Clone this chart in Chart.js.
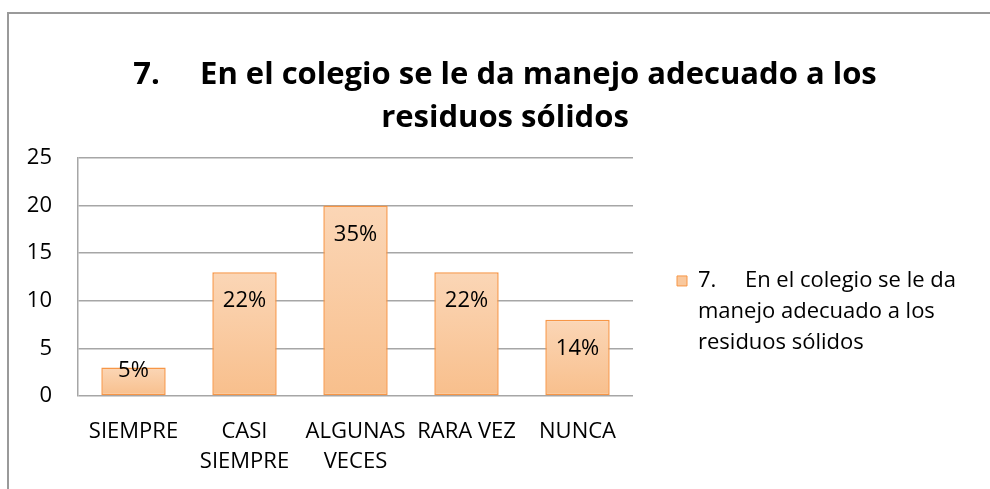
<!DOCTYPE html>
<html>
<head>
<meta charset="utf-8">
<script src="https://cdn.jsdelivr.net/npm/chart.js@4.4.1/dist/chart.umd.min.js"></script>
<style>
  html, body { margin: 0; padding: 0; background: #fff; overflow: hidden; }
  #grafico { display: block; }
</style>
</head>
<body>
<canvas id="grafico" width="990" height="489"></canvas>
<script>
const categorias = ['SIEMPRE', ['CASI', 'SIEMPRE'], ['ALGUNAS', 'VECES'], 'RARA VEZ', 'NUNCA'];
const respuestas = [3, 13, 20, 13, 8];
const porcentajes = ['5%', '22%', '35%', '22%', '14%'];
const marcasY = [0, 5, 10, 15, 20, 25];
const titulo = ['7.     En el colegio se le da manejo adecuado a los', 'residuos sólidos'];
const leyenda = ['7.     En el colegio se le da', 'manejo adecuado a los', 'residuos sólidos'];

const fuente = "'Open Sans', 'Noto Sans', sans-serif";
Chart.defaults.color = '#000';
Chart.defaults.font.family = fuente;

// marco gris del grafico (arriba e izquierda)
const marco = {
  id: 'marco',
  beforeDraw(chart) {
    const c = chart.ctx;
    c.save();
    c.strokeStyle = '#9a9a9a';
    c.lineWidth = 2;
    c.beginPath();
    c.moveTo(8, 489);
    c.lineTo(8, 13);
    c.lineTo(990, 13);
    c.stroke();
    c.restore();
  }
};

// porcentajes dentro de cada barra
const etiquetas = {
  id: 'etiquetas',
  afterDatasetsDraw(chart) {
    const c = chart.ctx;
    const barras = chart.getDatasetMeta(0).data;
    c.save();
    c.font = '22px ' + fuente;
    c.fillStyle = '#000';
    c.textAlign = 'center';
    c.textBaseline = 'middle';
    barras.forEach((b, i) => {
      const alto = b.base - b.y;
      const y = alto > 45 ? b.y + 29 : b.y + 3;
      c.fillText(porcentajes[i], b.x, y);
    });
    c.restore();
  }
};

// leyenda de la derecha: ancho fijo y un poco mas abajo
const ajusteLeyenda = {
  id: 'ajusteLeyenda',
  beforeLayout(chart) {
    const lg = chart.legend;
    if (lg && !lg._fijo) {
      const fit = lg.fit;
      lg.fit = function () { fit.call(this); this.width = 357; };
      lg._fijo = true;
    }
  },
  afterLayout(chart) {
    if (chart.legend) chart.legend.bottom += 11;
  }
};

function degradado(context) {
  const chart = context.chart;
  const area = chart.chartArea;
  if (!area) return '#f9c89d';
  const y = chart.scales.y;
  const v = respuestas[context.dataIndex];
  const top = y.getPixelForValue(v);
  const bottom = y.getPixelForValue(0);
  const g = chart.ctx.createLinearGradient(0, top, 0, bottom);
  g.addColorStop(0, '#fbd6b6');
  g.addColorStop(1, '#f8bf8c');
  return g;
}

const ctx = document.getElementById('grafico').getContext('2d');
new Chart(ctx, {
  type: 'bar',
  data: {
    labels: categorias,
    datasets: [{
      label: leyenda.join(' '),
      data: respuestas,
      backgroundColor: degradado,
      borderColor: '#f79646',
      borderWidth: 1.5,
      borderSkipped: false,
      barPercentage: 0.58,
      categoryPercentage: 1
    }]
  },
  options: {
    responsive: false,
    animation: false,
    layout: { padding: { left: 20, right: 0, top: 0, bottom: 0 } },
    scales: {
      x: {
        grid: { display: false, drawTicks: false },
        border: { display: false },
        ticks: {
          font: { size: 22, lineHeight: 1.36 },
          padding: 21,
          maxRotation: 0,
          autoSkip: false
        },
        afterFit(scale) { scale.height = 93; }
      },
      y: {
        min: 0,
        max: 25,
        afterBuildTicks(scale) { scale.ticks = marcasY.map(v => ({ value: v })); },
        grid: { color: '#a6a6a6', lineWidth: 1.5, drawTicks: false },
        border: { display: true, color: '#a6a6a6', width: 1.5 },
        ticks: { font: { size: 22 }, padding: 26 },
        afterFit(scale) { scale.width = 58; }
      }
    },
    plugins: {
      title: {
        display: true,
        text: titulo,
        font: { size: 31, weight: 'bold', lineHeight: 1.4 },
        padding: { top: 53, bottom: 18 }
      },
      legend: {
        display: true,
        position: 'right',
        align: 'end',
        fullSize: false,
        labels: {
          boxWidth: 10,
          boxHeight: 10,
          padding: 44,
          font: { size: 22, lineHeight: 1.41 },
          generateLabels: () => [{
            text: leyenda,
            fillStyle: '#f9c89d',
            strokeStyle: '#f79646',
            lineWidth: 1,
            datasetIndex: 0
          }]
        }
      },
      tooltip: { enabled: false }
    }
  },
  plugins: [marco, etiquetas, ajusteLeyenda]
});
</script>
</body>
</html>
